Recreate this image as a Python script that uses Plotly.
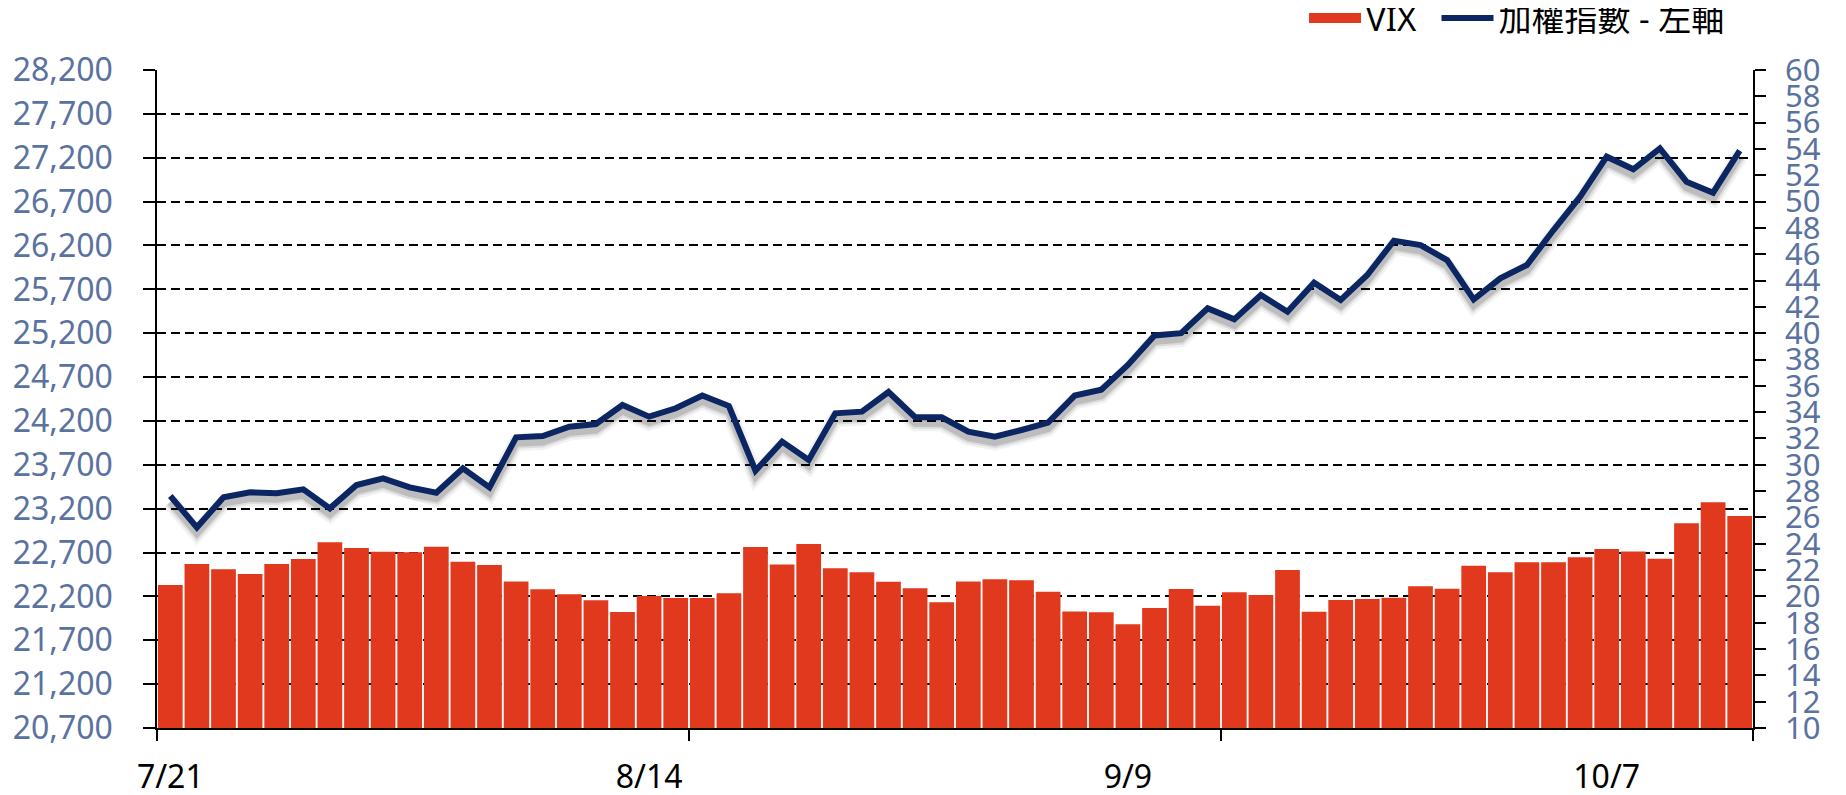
import plotly.graph_objects as go

dates = ["7/21","7/22","7/23","7/24","7/25","7/28","7/29","7/30","7/31","8/1",
         "8/4","8/5","8/6","8/7","8/8","8/11","8/12","8/13","8/14","8/15",
         "8/18","8/19","8/20","8/21","8/22","8/25","8/26","8/27","8/28","8/29",
         "9/1","9/2","9/3","9/4","9/5","9/8","9/9","9/10","9/11","9/12",
         "9/15","9/16","9/17","9/18","9/19","9/22","9/23","9/24","9/25","9/26",
         "9/30","10/1","10/2","10/3","10/7","10/8","10/9","10/13","10/14","10/15"]

vix = [20.87,22.46,22.06,21.70,22.46,22.84,24.11,23.68,23.40,23.35,
       23.78,22.64,22.39,21.14,20.54,20.16,19.70,18.81,20.03,19.88,
       19.88,20.23,23.75,22.43,23.98,22.13,21.83,21.12,20.61,19.55,
       21.14,21.30,21.22,20.36,18.86,18.79,17.88,19.12,20.56,19.29,
       20.31,20.10,22.00,18.84,19.72,19.80,19.90,20.77,20.59,22.33,
       21.83,22.59,22.59,22.97,23.60,23.42,22.86,25.55,27.15,26.11]

taiex = [23345,22987,23329,23386,23375,23420,23204,23470,23546,23443,
         23382,23660,23443,24013,24028,24135,24165,24382,24249,24344,
         24489,24370,23633,23964,23755,24287,24306,24530,24242,24242,
         24078,24021,24097,24180,24489,24556,24838,25174,25200,25483,
         25358,25635,25445,25776,25578,25863,26255,26205,26034,25586,
         25825,25977,26376,26756,27212,27068,27307,26927,26802,27280]

tick_labels = ["7/21", "8/14", "9/9", "10/7"]
left_range = [20700, 28200]
right_range = [10, 60]

idx = list(range(len(dates)))
tickvals = [dates.index(t) for t in tick_labels]
boundary_ticks = [i - 0.5 for i in range(0, len(dates) + 1, 20)]

FONT = "Noto Sans, Noto Sans CJK TC, sans-serif"
LABEL_COLOR = "#5a72a0"
RED = "#e0391e"
NAVY = "#0b2663"

# shadow offset in axis units (~6 px down)
plot_h = 658
shift = (left_range[1] - left_range[0]) / plot_h * 6

fig = go.Figure()

fig.add_trace(go.Bar(
    x=idx, y=vix, name="VIX", marker=dict(color=RED, line=dict(width=0)),
    yaxis="y", hoverinfo="skip", showlegend=False))

# legend entry for the VIX bars (wide swatch like the reference)
fig.add_trace(go.Scatter(
    x=[None], y=[None], mode="lines", name="VIX", yaxis="y", legend="legend",
    line=dict(color=RED, width=17), hoverinfo="skip"))

for w, a in [(16, 0.05), (11, 0.09), (7, 0.14)]:
    fig.add_trace(go.Scatter(
        x=idx, y=taiex, mode="lines", yaxis="y2", showlegend=False,
        line=dict(color=f"rgba(0,0,0,{a})", width=w), hoverinfo="skip"))

fig.add_trace(go.Scatter(
    x=idx, y=taiex, mode="lines", name="加權指數 - 左軸", yaxis="y3", legend="legend2",
    line=dict(color=NAVY, width=6), hoverinfo="skip"))

legend_common = dict(orientation="h", xanchor="left", y=1.079, yanchor="middle",
                     font=dict(size=33, color="black", family=FONT),
                     itemwidth=52, bgcolor="rgba(0,0,0,0)")

fig.update_layout(
    width=1838, height=787,
    margin=dict(l=149, r=93, t=62, b=67, autoexpand=False),
    paper_bgcolor="white", plot_bgcolor="white",
    font=dict(family=FONT, size=32, color="black"),
    bargap=0.07,
    showlegend=True,
    legend=dict(x=0.7187, **legend_common),
    legend2=dict(x=0.8017, **legend_common),
    xaxis=dict(
        type="linear", range=[-0.5, len(dates) - 0.5],
        tickmode="array", tickvals=tickvals, ticktext=tick_labels,
        ticks="", showgrid=False, zeroline=False,
        showline=True, linecolor="black", linewidth=1.5,
        tickfont=dict(size=32, color="black", family=FONT),
        ticklabelstandoff=20,
        minor=dict(tickmode="array", tickvals=boundary_ticks, ticks="outside",
                   ticklen=11, tickwidth=1.5, tickcolor="black", showgrid=False),
    ),
    yaxis=dict(
        side="right", range=right_range, dtick=2, tick0=10,
        showgrid=False, zeroline=False,
        showline=True, linecolor="black", linewidth=1.5,
        ticks="outside", ticklen=11, tickwidth=1.5, tickcolor="black",
        tickfont=dict(size=31, color=LABEL_COLOR, family=FONT),
        ticklabelstandoff=13,
    ),
    yaxis2=dict(
        overlaying="y", range=[left_range[0] + shift, left_range[1] + shift],
        visible=False,
    ),
    yaxis3=dict(
        overlaying="y", side="left", range=left_range, dtick=500, tick0=20700,
        tickformat=",", showgrid=True, gridcolor="black", gridwidth=1.5,
        griddash="9px,5px", zeroline=False,
        showline=True, linecolor="black", linewidth=1.5,
        ticks="outside", ticklen=12, tickwidth=1.5, tickcolor="black",
        tickfont=dict(size=32, color=LABEL_COLOR, family=FONT),
        ticklabelstandoff=24,
    ),
)

fig.write_html("out.html")
